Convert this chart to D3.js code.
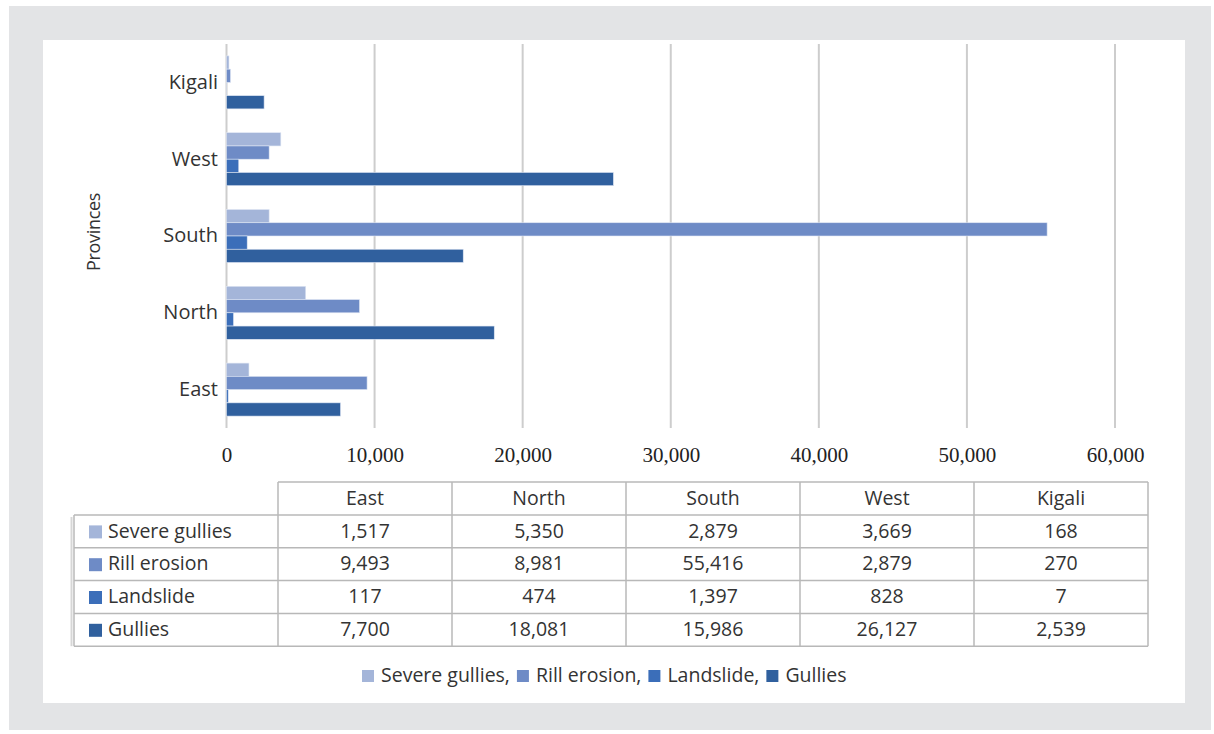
<!DOCTYPE html>
<html><head><meta charset="utf-8">
<script src="https://cdn.jsdelivr.net/npm/d3@7/dist/d3.min.js"></script>
<style>body{margin:0;background:#fff}svg{display:block}</style>
</head><body><svg id="c" width="1214" height="734"></svg>
<script>
const categories = ["East","North","South","West","Kigali"];
const seriesNames = ["Severe gullies","Rill erosion","Landslide","Gullies"];
const severeGullies = [1517,5350,2879,3669,168];
const rillErosion = [9493,8981,55416,2879,270];
const landslide = [117,474,1397,828,7];
const gullies = [7700,18081,15986,26127,2539];
const xTicks = [0,10000,20000,30000,40000,50000,60000];
const colors = ["#a4b5d9","#6e8bc6","#3b6eb9","#30609e"];
const values = [severeGullies, rillErosion, landslide, gullies];

const svg = d3.select("#c");
const sans = "'Open Sans', 'Noto Sans', sans-serif";
svg.append("rect").attr("x",9).attr("y",6).attr("width",1202).attr("height",724).attr("fill","#e3e4e6");
svg.append("rect").attr("x",43).attr("y",40).attr("width",1142).attr("height",663).attr("fill","#fff");

const x = d3.scaleLinear().domain([0,60000]).range([226.5,1115]);
const y = d3.scaleBand().domain(categories.slice().reverse()).range([44,428]).paddingInner(0.31).paddingOuter(0.155);
const yi = d3.scaleBand().domain(seriesNames).range([0,y.bandwidth()]);

// grid
svg.append("g").selectAll("line").data(xTicks).join("line")
  .attr("x1",d=>x(d)).attr("x2",d=>x(d)).attr("y1",44).attr("y2",428)
  .attr("stroke","#cdcdcd").attr("stroke-width",2);

// bars
const g = svg.append("g");
categories.forEach((c,ci)=>{
  seriesNames.forEach((s,si)=>{
    const v = values[si][ci];
    g.append("rect").attr("x",x(0)).attr("y",y(c)+yi(s))
      .attr("width",x(v)-x(0)).attr("height",yi.bandwidth())
      .attr("fill",colors[si]).attr("stroke","#dfe6f3").attr("stroke-width",0.6);
  });
});

// x axis labels
const xAxis = d3.axisBottom(x).tickValues(xTicks).tickSize(0).tickFormat(d3.format(","));
const xa = svg.append("g").attr("transform","translate(0,444)").call(xAxis);
xa.select(".domain").remove();
xa.selectAll("text").attr("font-family","'Liberation Serif', serif").attr("font-size",21).attr("fill","#222");

// y axis labels
const yAxis = d3.axisLeft(y).tickSize(0).tickPadding(8);
const ya = svg.append("g").attr("transform","translate(226,0)").call(yAxis);
ya.select(".domain").remove();
ya.selectAll("text").attr("font-family",sans).attr("font-size",20).attr("fill","#333");

svg.append("text").attr("transform","translate(95,232) rotate(-90)").attr("text-anchor","middle")
  .attr("dominant-baseline","middle").attr("font-family",sans).attr("font-size",18)
  .attr("letter-spacing",-0.3).attr("fill","#333").text("Provinces");

// data table
const colX = d3.scaleBand().domain(categories).range([278,1148]);
const rowTop = 482, headH = 33, rowH = 32.8;
const rowY = d3.scaleBand().domain(seriesNames).range([rowTop+headH, rowTop+headH+4*rowH]);
const tg = svg.append("g");
const st = "#b8b8b8";
tg.append("line").attr("x1",71.5).attr("x2",71.5).attr("y1",rowTop+headH+2).attr("y2",rowTop+headH+4*rowH).attr("stroke","#d6d6d6").attr("stroke-width",2);
tg.append("line").attr("x1",278).attr("x2",1148).attr("y1",rowTop).attr("y2",rowTop).attr("stroke",st).attr("stroke-width",1.5);
seriesNames.forEach(s=>{
  tg.append("line").attr("x1",74).attr("x2",1148).attr("y1",rowY(s)).attr("y2",rowY(s)).attr("stroke",st).attr("stroke-width",1.5);
});
tg.append("line").attr("x1",74).attr("x2",1148).attr("y1",rowTop+headH+4*rowH).attr("y2",rowTop+headH+4*rowH).attr("stroke",st).attr("stroke-width",1.5);
tg.append("line").attr("x1",74).attr("x2",74).attr("y1",rowTop+headH).attr("y2",rowTop+headH+4*rowH).attr("stroke",st).attr("stroke-width",1.5);
categories.concat(["_end"]).forEach((c,i)=>{
  const xx = i<categories.length ? colX(c) : 1148;
  tg.append("line").attr("x1",xx).attr("x2",xx).attr("y1",rowTop).attr("y2",rowTop+headH+4*rowH).attr("stroke",st).attr("stroke-width",1.5);
});
categories.forEach(c=>{
  tg.append("text").attr("x",colX(c)+colX.bandwidth()/2).attr("y",rowTop+headH/2+1)
    .attr("text-anchor","middle").attr("dominant-baseline","middle")
    .attr("font-family",sans).attr("font-size",19.5).attr("fill","#333").text(c);
});
const fmt = d3.format(",");
seriesNames.forEach((s,si)=>{
  const cy = rowY(s)+rowH/2+1;
  tg.append("rect").attr("x",89).attr("y",cy-7).attr("width",13).attr("height",13).attr("fill",colors[si]);
  tg.append("text").attr("x",108).attr("y",cy).attr("dominant-baseline","middle")
    .attr("font-family",sans).attr("font-size",19.5).attr("fill","#333").text(s);
  categories.forEach((c,ci)=>{
    tg.append("text").attr("x",colX(c)+colX.bandwidth()/2).attr("y",cy)
      .attr("text-anchor","middle").attr("dominant-baseline","middle")
      .attr("font-family",sans).attr("font-size",19.5).attr("fill","#333").text(fmt(values[si][ci]));
  });
});

// legend
const lg = svg.append("g");
let lx = 362;
seriesNames.forEach((s,si)=>{
  lg.append("rect").attr("x",lx).attr("y",670).attr("width",12).attr("height",12).attr("fill",colors[si]);
  const t = lg.append("text").attr("x",lx+19).attr("y",677).attr("dominant-baseline","middle")
    .attr("font-family",sans).attr("font-size",19.5).attr("fill","#333").text(s + (si<seriesNames.length-1?",":""));
  lx += 19 + t.node().getComputedTextLength() + 7;
});
</script></body></html>
